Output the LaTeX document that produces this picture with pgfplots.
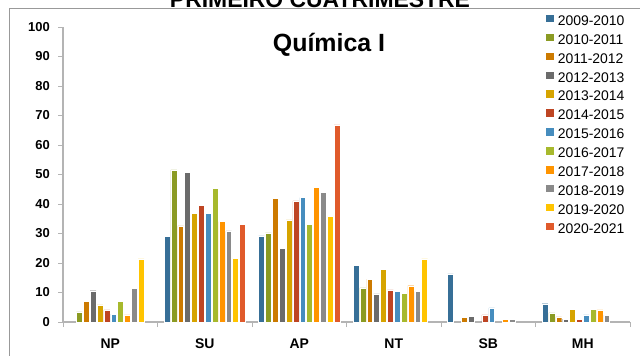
\documentclass[border=0pt]{standalone}
\usepackage{pgfplots}
\pgfplotsset{compat=1.18}
\usepackage{fontspec}
\setmainfont{Liberation Sans}
\definecolor{c1}{HTML}{376F97}
\definecolor{c2}{HTML}{8B9B23}
\definecolor{c3}{HTML}{CC7A00}
\definecolor{c4}{HTML}{6B6B6B}
\definecolor{c5}{HTML}{D6A400}
\definecolor{c6}{HTML}{BE4523}
\definecolor{c7}{HTML}{468DBE}
\definecolor{c8}{HTML}{A7B92D}
\definecolor{c9}{HTML}{FF9400}
\definecolor{c10}{HTML}{8A8A8A}
\definecolor{c11}{HTML}{FFC400}
\definecolor{c12}{HTML}{E05A2B}
\definecolor{axgray}{HTML}{B4B4B4}
\begin{document}
\begin{tikzpicture}
\begin{axis}[name=ax, at={(0,0)}, anchor=south west,
  scale only axis, width=567bp, height=295bp,
  xmin=-0.5, xmax=5.5, ymin=0, ymax=100,
  ybar=1bp, bar width=5.85bp,
  xtick={0,...,5}, xticklabels={NP,SU,AP,NT,SB,MH},
  minor xtick={-0.5,0.5,...,5.5},
  ytick={0,10,...,100},
  axis x line*=bottom, axis y line*=left,
  axis line style={axgray, line width=1.2bp, -},
  tick align=outside,
  major tick length=5bp, minor tick length=5bp,
  every major x tick/.append style={draw=none},
  every minor x tick/.append style={axgray, line width=0.8bp},
  every major y tick/.append style={axgray, line width=0.8bp},
  /pgf/number format/assume math mode=true,
  yticklabel style={font=\bfseries\fontsize{13}{13}\selectfont, inner sep=0pt, xshift=-8bp},
  xticklabel style={font=\bfseries\fontsize{14}{14}\selectfont, inner sep=0pt, yshift=-12bp},
  every axis plot/.append style={draw=white, line width=0.4bp},
  legend style={draw=none, fill=none, at={(0.852,1.042)}, anchor=north west,
    font=\fontsize{14}{14}\selectfont, inner sep=0pt, row sep=8.4bp,
    nodes={inner sep=0pt, text height=10bp, text depth=0bp},
    /tikz/every odd column/.append style={column sep=4bp}},
  legend cell align=left,
  legend image code/.code={\fill[#1, draw=none] (0bp,-2bp) rectangle (7.5bp,5.5bp);},
  clip=false,
]
\addplot[fill=c1] coordinates {(1,29.0) (2,29.2) (3,19.2) (4,16.3) (5,6.2)};
\addlegendentry{2009-2010}
\addplot[fill=c2] coordinates {(0,3.4) (1,51.6) (2,30.2) (3,11.6) (5,3.1)};
\addlegendentry{2010-2011}
\addplot[fill=c3] coordinates {(0,7.1) (1,32.6) (2,41.8) (3,14.5) (4,1.6) (5,1.7)};
\addlegendentry{2011-2012}
\addplot[fill=c4] coordinates {(0,10.6) (1,50.8) (2,25.0) (3,9.5) (4,1.9) (5,1.0)};
\addlegendentry{2012-2013}
\addplot[fill=c5] coordinates {(0,5.8) (1,36.9) (2,34.6) (3,17.9) (5,4.4)};
\addlegendentry{2013-2014}
\addplot[fill=c6] coordinates {(0,4.1) (1,39.5) (2,41.1) (3,10.9) (4,2.4) (5,1.0)};
\addlegendentry{2014-2015}
\addplot[fill=c7] coordinates {(0,2.7) (1,36.9) (2,42.2) (3,10.5) (4,4.8) (5,2.4)};
\addlegendentry{2015-2016}
\addplot[fill=c8] coordinates {(0,7.1) (1,45.2) (2,33.0) (3,9.6) (5,4.4)};
\addlegendentry{2016-2017}
\addplot[fill=c9] coordinates {(0,2.4) (1,34.0) (2,45.6) (3,12.3) (4,1.0) (5,4.1)};
\addlegendentry{2017-2018}
\addplot[fill=c10] coordinates {(0,11.5) (1,30.9) (2,44.0) (3,10.3) (4,1.0) (5,2.3)};
\addlegendentry{2018-2019}
\addplot[fill=c11] coordinates {(0,21.4) (1,21.5) (2,35.8) (3,21.4)};
\addlegendentry{2019-2020}
\addplot[fill=c12] coordinates {(1,33.2) (2,66.8)};
\addlegendentry{2020-2021}
\end{axis}
\draw[gray!80, line width=1bp] ([shift={(-53bp,-80bp)}]ax.south west) rectangle ([shift={(640bp,313bp)}]ax.south west);
\node[anchor=base, inner sep=0pt, font=\bfseries\fontsize{25}{25}\selectfont] at ([shift={(266bp,270bp)}]ax.south west) {Química I};
\node[anchor=base, inner sep=0pt, font=\bfseries\fontsize{23}{23}\selectfont] at ([shift={(257bp,314.5bp)}]ax.south west) {PRIMEIRO CUATRIMESTRE};
\pgfresetboundingbox
\path[use as bounding box] ([shift={(-63bp,-34bp)}]ax.south west) rectangle ([shift={(577bp,322bp)}]ax.south west);
\end{tikzpicture}
\end{document}
